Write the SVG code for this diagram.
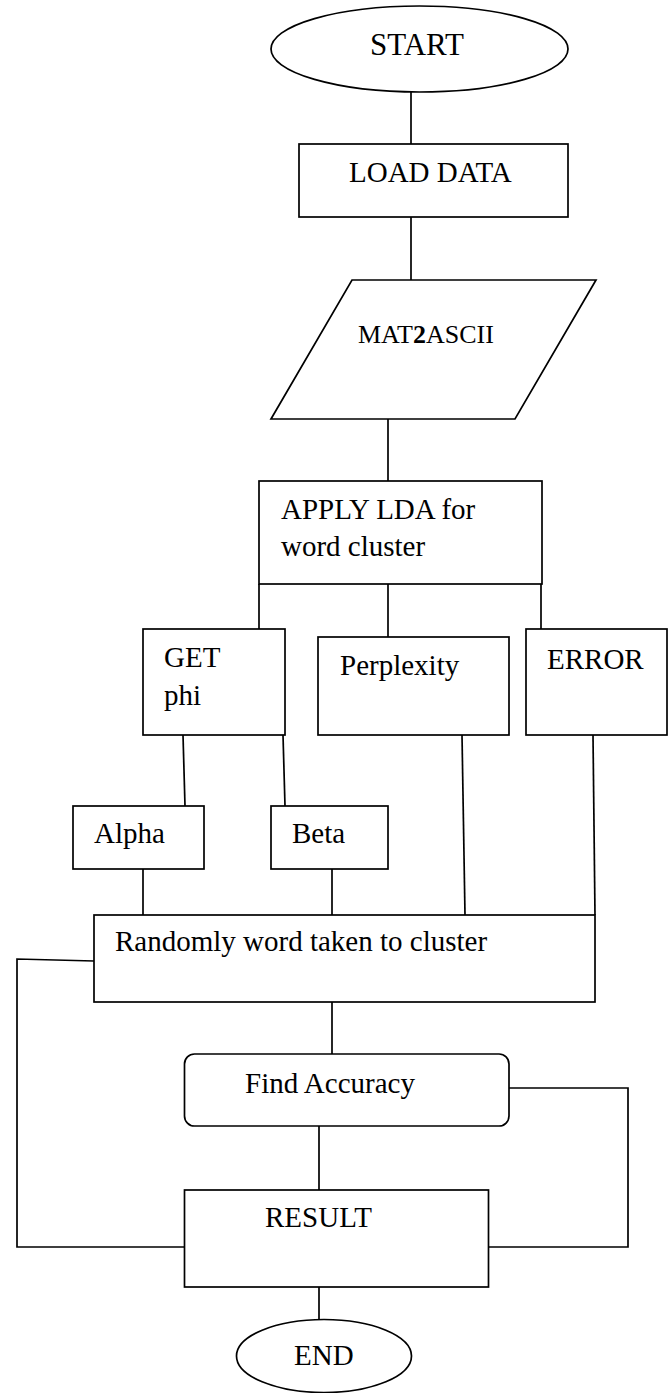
<svg xmlns="http://www.w3.org/2000/svg" width="668" height="1393" viewBox="0 0 668 1393">
<style>
.s{fill:none;stroke:#000;stroke-width:1.7}
.b{fill:#fff;stroke:#000;stroke-width:1.7}
.t{font-family:"Liberation Serif","Times New Roman",serif;font-size:29px;fill:#000}
</style>
<rect width="668" height="1393" fill="#fff"/>
<g id="connectors" class="s">
<line x1="411" y1="92" x2="411" y2="144"/>
<line x1="411" y1="217" x2="411" y2="280"/>
<line x1="388" y1="419" x2="388" y2="481"/>
<line x1="259" y1="584" x2="259" y2="629"/>
<line x1="388" y1="584" x2="388" y2="637"/>
<line x1="541" y1="584" x2="541" y2="629"/>
<line x1="183" y1="735" x2="185" y2="806"/>
<line x1="283" y1="735" x2="285" y2="806"/>
<line x1="462" y1="735" x2="465" y2="915"/>
<line x1="593" y1="735" x2="595" y2="915"/>
<line x1="143" y1="869" x2="143" y2="915"/>
<line x1="332" y1="869" x2="332" y2="915"/>
<line x1="332" y1="1002" x2="332" y2="1054"/>
<polyline points="94,961 17,959 17,1247 184,1247"/>
<line x1="319" y1="1126" x2="319" y2="1190"/>
<polyline points="509,1088 628,1088 628,1247 489,1247"/>
<line x1="319" y1="1287" x2="319" y2="1319"/>
</g>
<g id="start">
<ellipse class="b" cx="419.5" cy="49" rx="148.5" ry="43"/>
<text class="t" x="370" y="55" style="font-size:31px">START</text>
</g>
<g id="load-data">
<rect class="b" x="299" y="144" width="269" height="73"/>
<text class="t" x="349" y="182">LOAD DATA</text>
</g>
<g id="mat2ascii">
<polygon class="b" points="352,280 596,280 515,419 271,419"/>
<text class="t" x="358" y="343" style="font-size:26px">MAT<tspan font-weight="bold">2</tspan>ASCII</text>
</g>
<g id="apply-lda">
<rect class="b" x="259" y="481" width="283" height="103"/>
<text class="t" x="281" y="519">APPLY LDA for</text>
<text class="t" x="281" y="556">word cluster</text>
</g>
<g id="get-phi">
<rect class="b" x="143" y="629" width="142" height="106"/>
<text class="t" x="164" y="667">GET</text>
<text class="t" x="164" y="705">phi</text>
</g>
<g id="perplexity">
<rect class="b" x="318" y="637" width="191" height="98"/>
<text class="t" x="340" y="675">Perplexity</text>
</g>
<g id="error">
<rect class="b" x="526" y="629" width="141" height="106"/>
<text class="t" x="547" y="669">ERROR</text>
</g>
<g id="alpha">
<rect class="b" x="73" y="806" width="131" height="63"/>
<text class="t" x="94" y="843">Alpha</text>
</g>
<g id="beta">
<rect class="b" x="271" y="806" width="117" height="63"/>
<text class="t" x="292" y="843">Beta</text>
</g>
<g id="random">
<rect class="b" x="94" y="915" width="501" height="87"/>
<text class="t" x="115" y="951">Randomly word taken to cluster</text>
</g>
<g id="find-accuracy">
<rect class="b" x="184.5" y="1054" width="324.5" height="72" rx="10" ry="10"/>
<text class="t" x="245" y="1093">Find Accuracy</text>
</g>
<g id="result">
<rect class="b" x="184.5" y="1190" width="304" height="97"/>
<text class="t" x="265" y="1227">RESULT</text>
</g>
<g id="end">
<ellipse class="b" cx="324" cy="1356" rx="87.5" ry="36.5"/>
<text class="t" x="294" y="1365">END</text>
</g>
</svg>
